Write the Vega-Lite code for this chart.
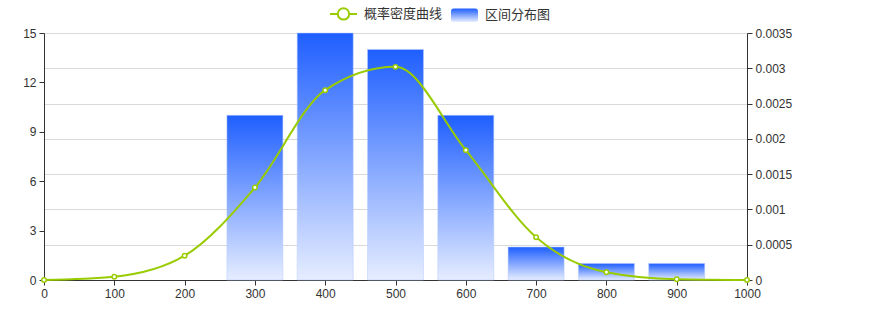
{
  "$schema": "https://vega.github.io/schema/vega-lite/v6.json",
  "width": 703,
  "height": 247,
  "autosize": {"type": "none"},
  "padding": {"left": 44, "top": 33, "right": 133, "bottom": 50},
  "background": "#ffffff",
  "config": {
    "view": {"stroke": null},
    "axis": {
      "labelFont": "Liberation Sans",
      "labelFontSize": 12,
      "labelColor": "#333333",
      "domainColor": "#333333",
      "tickColor": "#333333",
      "tickSize": 5,
      "labelPadding": 3,
      "gridColor": "#d9d9d9",
      "gridWidth": 1,
      "title": null
    }
  },
  "datasets": {
    "bars": [
      {"x": 300, "count": 10},
      {"x": 400, "count": 15},
      {"x": 500, "count": 14},
      {"x": 600, "count": 10},
      {"x": 700, "count": 2},
      {"x": 800, "count": 1},
      {"x": 900, "count": 1}
    ],
    "density": [
      {"x": 0, "density": 0, "series": "概率密度曲线"},
      {"x": 100, "density": 0.000047, "series": "概率密度曲线"},
      {"x": 200, "density": 0.000344, "series": "概率密度曲线"},
      {"x": 300, "density": 0.00131, "series": "概率密度曲线"},
      {"x": 400, "density": 0.00269, "series": "概率密度曲线"},
      {"x": 500, "density": 0.00302, "series": "概率密度曲线"},
      {"x": 600, "density": 0.00184, "series": "概率密度曲线"},
      {"x": 700, "density": 0.000605, "series": "概率密度曲线"},
      {"x": 800, "density": 0.000109, "series": "概率密度曲线"},
      {"x": 900, "density": 0.00001, "series": "概率密度曲线"},
      {"x": 1000, "density": 0, "series": "概率密度曲线"}
    ]
  },
  "layer": [
    {
      "data": {"name": "bars"},
      "mark": {
        "type": "bar",
        "width": 56,
        "stroke": "#b5cbff",
        "strokeWidth": 1,
        "strokeOpacity": 0.5,
        "color": {
          "gradient": "linear",
          "x1": 0, "y1": 0, "x2": 0, "y2": 1,
          "stops": [
            {"offset": 0, "color": "#1f5fff"},
            {"offset": 1, "color": "#e6edff"}
          ]
        }
      },
      "encoding": {
        "x": {
          "field": "x",
          "type": "quantitative",
          "scale": {"domain": [0, 1000], "nice": false, "padding": 0},
          "axis": {"values": [0, 100, 200, 300, 400, 500, 600, 700, 800, 900, 1000], "format": "d", "grid": false, "labelFlush": false}
        },
        "y": {
          "field": "count",
          "type": "quantitative",
          "scale": {"domain": [0, 15], "nice": false},
          "axis": {"orient": "left", "values": [0, 3, 6, 9, 12, 15], "grid": false}
        }
      }
    },
    {
      "data": {"name": "density"},
      "mark": {
        "type": "line",
        "interpolate": "monotone",
        "strokeWidth": 2,
        "point": {"filled": false, "fill": "#ffffff", "size": 20, "strokeWidth": 1.5}
      },
      "encoding": {
        "x": {"field": "x", "type": "quantitative"},
        "y": {
          "field": "density",
          "type": "quantitative",
          "scale": {"domain": [0, 0.0035], "nice": false},
          "axis": {"orient": "right", "values": [0, 0.0005, 0.001, 0.0015, 0.002, 0.0025, 0.003, 0.0035], "format": "~g", "grid": true}
        },
        "color": {
          "field": "series",
          "type": "nominal",
          "scale": {"domain": ["概率密度曲线", "区间分布图"], "range": ["#99cc00", "#2266ff"]},
          "legend": {
            "orient": "none",
            "legendX": 285,
            "legendY": -34,
            "direction": "horizontal",
            "title": null,
            "symbolSize": 729,
            "symbolStrokeWidth": 2,
            "labelFont": "Noto Sans CJK SC",
            "labelFontSize": 13,
            "labelColor": "#333333",
            "labelOffset": 6,
            "columnPadding": 7,
            "padding": 0,
            "encode": {
              "symbols": {
                "update": {
                  "shape": {"signal": "datum.value === '区间分布图' ? 'M-0.8,-0.5L0.8,-0.5Q1,-0.5,1,-0.3L1,0.3Q1,0.5,0.8,0.5L-0.8,0.5Q-1,0.5,-1,0.3L-1,-0.3Q-1,-0.5,-0.8,-0.5Z' : 'M-1,0L-0.42,0M0.42,0L1,0M-0.42,0A0.42,0.42,0,1,1,0.42,0A0.42,0.42,0,1,1,-0.42,0Z'"},
                  "fill": {"signal": "datum.value === '区间分布图' ? {gradient: 'linear', x1: 0, y1: 0, x2: 0, y2: 1, stops: [{offset: 0, color: '#1f5fff'}, {offset: 1, color: '#e6edff'}]} : '#ffffff'"},
                  "stroke": {"value": "#99cc00"},
                  "strokeOpacity": {"signal": "datum.value === '区间分布图' ? 0 : 1"},
                  "opacity": {"value": 1}
                }
              }
            }
          }
        }
      }
    }
  ],
  "resolve": {"scale": {"y": "independent"}}
}
